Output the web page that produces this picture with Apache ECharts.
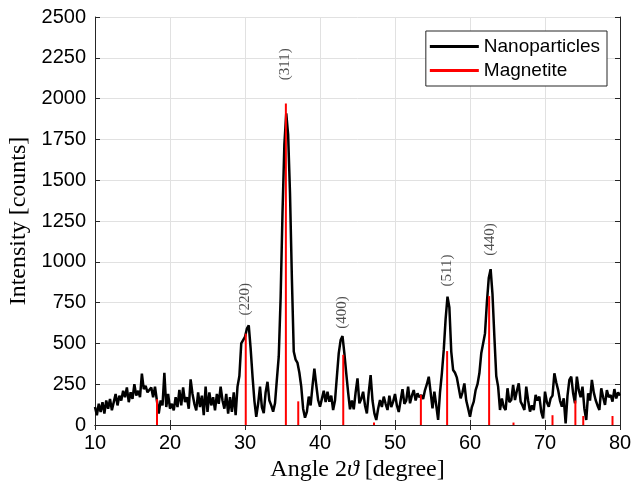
<!DOCTYPE html>
<html>
<head>
<meta charset="utf-8">
<script src="https://cdn.jsdelivr.net/npm/echarts@6/dist/echarts.min.js"></script>
<style>
  html, body { margin: 0; padding: 0; background: #fff; }
  #chart { width: 632px; height: 488px; }
</style>
</head>
<body>
<div id="chart"></div>
<script>
// scan grid of the diffractometer: 10..80 deg, step 0.25
var angleStart = 10;
var angleStep = 0.25;

// measured intensity (counts), one row per degree
var intensity = [
  110, 60, 130, 80,      // 10
  140, 70, 150, 100,     // 11
  160, 90, 140, 190,     // 12
  120, 180, 150, 210,    // 13
  170, 230, 140, 200,    // 14
  160, 250, 180, 210,    // 15
  170, 315, 220, 240,    // 16
  200, 190, 230, 170,    // 17
  235, 150, 70, 150,     // 18
  120, 320, 110, 190,    // 19
  100, 130, 90, 170,     // 20
  110, 215, 120, 230,    // 21
  140, 170, 100, 280,    // 22
  190, 130, 90, 200,     // 23
  110, 180, 60, 235,     // 24
  80, 200, 120, 170,     // 25
  90, 190, 130, 235,     // 26
  150, 100, 190, 70,     // 27
  170, 80, 200, 60,      // 28
  235, 300, 500, 520,    // 29
  540, 590, 610, 470,    // 30
  300, 150, 50, 130,     // 31
  235, 110, 72, 200,     // 32
  265, 150, 120, 82,     // 33
  133, 280, 420, 780,    // 34
  1300, 1720, 1910, 1780,// 35
  1420, 900, 450, 400,   // 36
  380, 320, 235, 100,    // 37
  45, 80, 174, 120,      // 38
  240, 345, 245, 153,    // 39
  112, 160, 210, 140,    // 40
  204, 143, 180, 92,     // 41
  150, 296, 440, 520,    // 42
  545, 439, 317, 200,    // 43
  96, 150, 96, 200,      // 44
  286, 133, 160, 204,    // 45
  120, 71, 200, 306,     // 46
  150, 71, 31, 100,      // 47
  153, 110, 174, 130,    // 48
  92, 180, 110, 143,     // 49
  190, 120, 80, 150,     // 50
  220, 130, 150, 235,    // 51
  133, 180, 214, 150,    // 52
  194, 170, 184, 160,    // 53
  214, 250, 296, 200,    // 54
  102, 204, 120, 31,     // 55
  200, 317, 460, 650,    // 56
  786, 720, 450, 337,    // 57
  320, 290, 286, 163,    // 58
  200, 255, 150, 102,    // 59
  51, 110, 143, 214,     // 60
  250, 317, 439, 500,    // 61
  561, 750, 900, 955,    // 62
  800, 541, 300, 235,    // 63
  92, 163, 110, 92,      // 64
  225, 140, 153, 245,    // 65
  153, 210, 255, 143,    // 66
  120, 92, 235, 150,     // 67
  82, 120, 92, 184,      // 68
  150, 174, 80, 41,      // 69
  204, 140, 112, 163,    // 70
  180, 317, 260, 214,    // 71
  150, 112, 163, 10,     // 72
  180, 276, 296, 194,    // 73
  133, 296, 214, 170,    // 74
  235, 100, 31, 194,     // 75
  150, 276, 200, 153,    // 76
  120, 92, 225, 170,     // 77
  123, 214, 170, 184,    // 78
  143, 220, 163, 200,    // 79
  180                    // 80
];

// magnetite reference lines
var refAngles  = [18.27, 30.1, 35.45, 37.1, 43.1, 47.2, 53.45, 56.95, 62.55, 65.8, 71.0, 74.05, 75.1, 79.0];
var refHeights = [158, 560, 1970, 145, 430, 15, 185, 453, 790, 15, 60, 150, 55, 55];

// Miller index labels
var hklNames  = ['(220)', '(311)', '(400)', '(511)', '(440)'];
var hklAngles = [30.0, 35.35, 43.0, 56.9, 62.7];
var hklPos    = [770, 2210, 690, 947, 1137];

var xTicks = { min: 10, max: 80, step: 10 };
var yTicks = { min: 0, max: 2500, step: 250 };

var lineData = intensity.map(function (v, i) { return [angleStart + i * angleStep, v]; });
var stickData = refAngles.map(function (a, i) { return [a, refHeights[i]]; });
var hklData = hklNames.map(function (n, i) { return { name: n, value: [hklAngles[i], hklPos[i]] }; });

var axisColor = '#262626';
var sansFont = 'Liberation Sans, Arial, sans-serif';
var serifFont = 'Liberation Serif, Times New Roman, serif';

var chart = echarts.init(document.getElementById('chart'));
chart.setOption({
  backgroundColor: '#fff',
  animation: false,
  grid: { left: 95, right: 12, top: 17, bottom: 63, containLabel: false, outerBoundsMode: 'none' },
  legend: {
    orient: 'vertical',
    right: 25,
    top: 31,
    padding: [6, 7, 6, 4],
    itemGap: 5,
    itemWidth: 49,
    itemHeight: 3,
    itemTextGap: 5,
    backgroundColor: '#fff',
    borderColor: axisColor,
    borderWidth: 1,
    textStyle: { fontFamily: sansFont, fontSize: 19, color: '#000' },
    data: [
      { name: 'Nanoparticles', icon: 'rect', itemStyle: { color: '#000' } },
      { name: 'Magnetite', icon: 'rect', itemStyle: { color: '#ff0000' } }
    ]
  },
  xAxis: [
    {
      type: 'value',
      min: xTicks.min, max: xTicks.max, interval: xTicks.step,
      name: 'Angle 2{it|ϑ} [degree]',
      nameLocation: 'middle',
      nameGap: 32,
      nameTextStyle: {
        fontFamily: serifFont, fontSize: 24, color: '#000',
        rich: { it: { fontFamily: serifFont, fontSize: 24, fontStyle: 'italic', color: '#000' } }
      },
      axisLine: { lineStyle: { color: axisColor, width: 1 } },
      axisTick: { inside: true, length: 5, lineStyle: { color: axisColor } },
      axisLabel: { margin: 8, fontFamily: sansFont, fontSize: 20, color: '#000' },
      splitLine: { show: true, lineStyle: { color: '#e1e1e1', width: 1 } }
    },
    {
      type: 'value', position: 'top',
      min: xTicks.min, max: xTicks.max, interval: xTicks.step,
      axisLine: { show: true, lineStyle: { color: axisColor, width: 1 } },
      axisTick: { show: true, inside: true, length: 5, lineStyle: { color: axisColor } },
      axisLabel: { show: false },
      splitLine: { show: false }
    }
  ],
  yAxis: [
    {
      type: 'value',
      min: yTicks.min, max: yTicks.max, interval: yTicks.step,
      name: 'Intensity [counts]',
      nameLocation: 'middle',
      nameGap: 63,
      nameRotate: 90,
      nameTextStyle: { fontFamily: serifFont, fontSize: 24, color: '#000' },
      axisLine: { show: true, lineStyle: { color: axisColor, width: 1 } },
      axisTick: { show: true, inside: true, length: 5, lineStyle: { color: axisColor } },
      axisLabel: {
        margin: 9, fontFamily: sansFont, fontSize: 20, color: '#000',
        formatter: function (v) { return String(v); }
      },
      splitLine: { show: true, lineStyle: { color: '#e1e1e1', width: 1 } }
    },
    {
      type: 'value', position: 'right',
      min: yTicks.min, max: yTicks.max, interval: yTicks.step,
      axisLine: { show: true, lineStyle: { color: axisColor, width: 1 } },
      axisTick: { show: true, inside: true, length: 5, lineStyle: { color: axisColor } },
      axisLabel: { show: false },
      splitLine: { show: false }
    }
  ],
  series: [
    {
      name: 'Nanoparticles',
      type: 'line',
      data: lineData,
      showSymbol: false,
      symbol: 'none',
      lineStyle: { color: '#000', width: 2.5 },
      itemStyle: { color: '#000' },
      z: 2
    },
    {
      name: 'Magnetite',
      type: 'bar',
      data: stickData,
      barWidth: 2,
      itemStyle: { color: '#ff0000' },
      z: 3
    },
    {
      name: 'hkl',
      type: 'scatter',
      data: hklData,
      symbolSize: 0,
      silent: true,
      label: {
        show: true,
        position: 'inside',
        rotate: 90,
        formatter: '{b}',
        fontFamily: serifFont,
        fontSize: 15,
        color: '#222'
      },
      z: 4
    }
  ]
});
</script>
</body>
</html>
